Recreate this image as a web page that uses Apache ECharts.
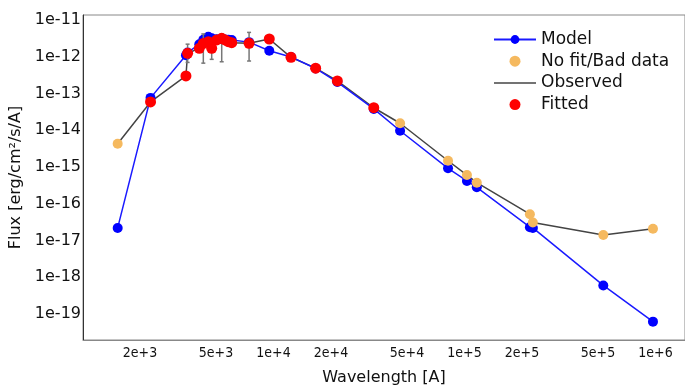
<!DOCTYPE html>
<html>
<head>
<meta charset="utf-8">
<script src="https://cdn.jsdelivr.net/npm/echarts@6/dist/echarts.min.js"></script>
<style>
  html, body { margin: 0; padding: 0; background: #fff; }
  #chart { width: 685px; height: 387px; }
</style>
</head>
<body>
<div id="chart"></div>
<script>
// wavelengths of the photometric points [A]
const wavelength = [1528, 2271, 3480, 3550, 4088, 4291, 4557, 4747, 5043, 5356, 5572, 5799, 6043, 7450, 9505,
  12350, 16620, 21590, 33500, 46000, 82000, 103000, 116000, 220000, 228000, 533000, 970000]
// observed flux [erg/cm2/s/A]
const observed = [4.3e-15, 5.9e-14, 3.0e-13, 1.24e-12, 1.7e-12, 2.3e-12, 2.57e-12, 1.7e-12, 2.86e-12, 3.18e-12,
  2.86e-12, 2.57e-12, 2.41e-12, 2.32e-12, 3.04e-12, 9.66e-13, 4.9e-13, 2.2e-13, 4.1e-14, 1.55e-14,
  1.48e-15, 6.05e-16, 3.74e-16, 5.2e-17, 3.1e-17, 1.41e-17, 2.09e-17]
// model flux at the same wavelengths
const model = [2.2e-17, 7.6e-14, 1.1e-12, 1.3e-12, 2.2e-12, 2.9e-12, 3.5e-12, 3.2e-12, 3.0e-12, 3.0e-12,
  2.95e-12, 2.9e-12, 2.85e-12, 2.5e-12, 1.46e-12, 9.9e-13, 4.8e-13, 2.05e-13, 3.8e-14, 9.7e-15,
  9.2e-16, 4.17e-16, 2.8e-16, 2.3e-17, 2.2e-17, 6.0e-19, 6.2e-20]
// 1 = used in the fit, 0 = no fit / bad data
const fitted = [0, 1, 1, 1, 1, 1, 1, 1, 1, 1, 1, 1, 1, 1, 1, 1, 1, 1, 1, 0, 0, 0, 0, 0, 0, 0, 0]
// error bar bounds (null = none visible)
const errLow = [null, null, null, 7.0e-13, null, 6.7e-13, null, 8.5e-13, null, 7.3e-13, null, null, null, 7.65e-13, null,
  null, null, null, 3.5e-14, null, null, null, null, null, null, null, null]
const errHigh = [null, null, null, 2.2e-12, null, 4.17e-12, null, 2.6e-12, null, 4.2e-12, null, null, null, 4.6e-12, null,
  null, null, null, 4.6e-14, null, null, null, null, null, null, null, null]

const xTicks = [2e3, 5e3, 1e4, 2e4, 5e4, 1e5, 2e5, 5e5, 1e6]
const yTicks = [1e-19, 1e-18, 1e-17, 1e-16, 1e-15, 1e-14, 1e-13, 1e-12, 1e-11]

const lg = Math.log10

const chart = echarts.init(document.getElementById('chart'))

const pts = (arr, keep) => wavelength
  .map((w, i) => (keep(i) ? [lg(w), lg(arr[i])] : null))
  .filter(Boolean)

const errData = wavelength
  .map((w, i) => (errLow[i] != null ? [lg(w), lg(errLow[i]), lg(errHigh[i])] : null))
  .filter(Boolean)

const fmtX = (v) => {
  const e = Math.floor(v + 1e-6)
  const m = Math.round(Math.pow(10, v - e))
  return m + 'e+' + e
}
const fmtY = (v) => '1e' + Math.round(v)

const font = 'DejaVu Sans'

chart.setOption({
  animation: false,
  grid: {
    left: 83, right: 0, top: 15, bottom: 47,
    outerBoundsMode: 'none',
    containLabel: false,
    show: true, borderColor: '#888', borderWidth: 1
  },
  legend: {
    orient: 'vertical',
    left: 488,
    top: 26,
    itemWidth: 42,
    itemHeight: 11,
    itemGap: 4.7,
    textStyle: { fontFamily: font, fontSize: 17, color: '#111' },
    data: [
      'Model',
      'No fit/Bad data',
      { name: 'Observed', icon: 'path://M0,0H42V1.5H0Z' },
      'Fitted'
    ]
  },
  xAxis: {
    type: 'value',
    min: 3.0026,
    max: 6.1545,
    name: 'Wavelength [A]',
    nameLocation: 'middle',
    nameGap: 30,
    nameTextStyle: { fontFamily: font, fontSize: 16, color: '#111' },
    axisLine: { show: true, lineStyle: { color: '#888', width: 1 } },
    axisTick: { show: false },
    splitLine: { show: false },
    axisLabel: {
      customValues: xTicks.map(lg),
      formatter: fmtX,
      fontFamily: 'DejaVu Sans Condensed',
      fontSize: 14,
      color: '#111',
      margin: 6
    }
  },
  yAxis: {
    type: 'value',
    min: -19.707,
    max: -10.864,
    name: 'Flux [erg/cm²/s/A]',
    nameLocation: 'middle',
    nameGap: 55,
    nameTextStyle: { fontFamily: font, fontSize: 16, color: '#111' },
    axisLine: { show: true, lineStyle: { color: '#333', width: 1 } },
    axisTick: { show: false },
    splitLine: { show: false },
    axisLabel: {
      customValues: yTicks.map(lg),
      formatter: fmtY,
      fontFamily: font,
      fontSize: 16,
      color: '#111',
      margin: 2,
      padding: [4, 0, 0, 0]
    }
  },
  series: [
    {
      name: 'Observed',
      type: 'line',
      data: pts(observed, () => true),
      showSymbol: false,
      symbol: 'none',
      lineStyle: { color: '#444', width: 1.5 },
      itemStyle: { color: '#444' },
      z: 1
    },
    {
      name: 'Model',
      type: 'line',
      data: pts(model, () => true),
      symbol: 'circle',
      symbolSize: 10,
      lineStyle: { color: '#1a1aff', width: 1.5 },
      itemStyle: { color: '#0000ff' },
      z: 2
    },
    {
      name: 'errors',
      type: 'custom',
      data: errData,
      renderItem: (params, api) => {
        const x = api.value(0)
        const lo = api.coord([x, api.value(1)])
        const hi = api.coord([x, api.value(2)])
        const st = { stroke: '#777', lineWidth: 1.5 }
        return {
          type: 'group',
          children: [
            { type: 'line', shape: { x1: lo[0], y1: lo[1], x2: hi[0], y2: hi[1] }, style: st },
            { type: 'line', shape: { x1: lo[0] - 2, y1: lo[1], x2: lo[0] + 2, y2: lo[1] }, style: st },
            { type: 'line', shape: { x1: hi[0] - 2, y1: hi[1], x2: hi[0] + 2, y2: hi[1] }, style: st }
          ]
        }
      },
      z: 3
    },
    {
      name: 'Fitted',
      type: 'scatter',
      data: pts(observed, (i) => fitted[i] === 1),
      symbol: 'circle',
      symbolSize: 11,
      itemStyle: { color: '#ff0000', opacity: 1 },
      z: 4
    },
    {
      name: 'No fit/Bad data',
      type: 'scatter',
      data: pts(observed, (i) => fitted[i] === 0),
      symbol: 'circle',
      symbolSize: 10,
      itemStyle: { color: '#f5b95f', opacity: 1 },
      z: 5
    }
  ]
})

window.addEventListener('resize', () => chart.resize())
</script>
</body>
</html>
